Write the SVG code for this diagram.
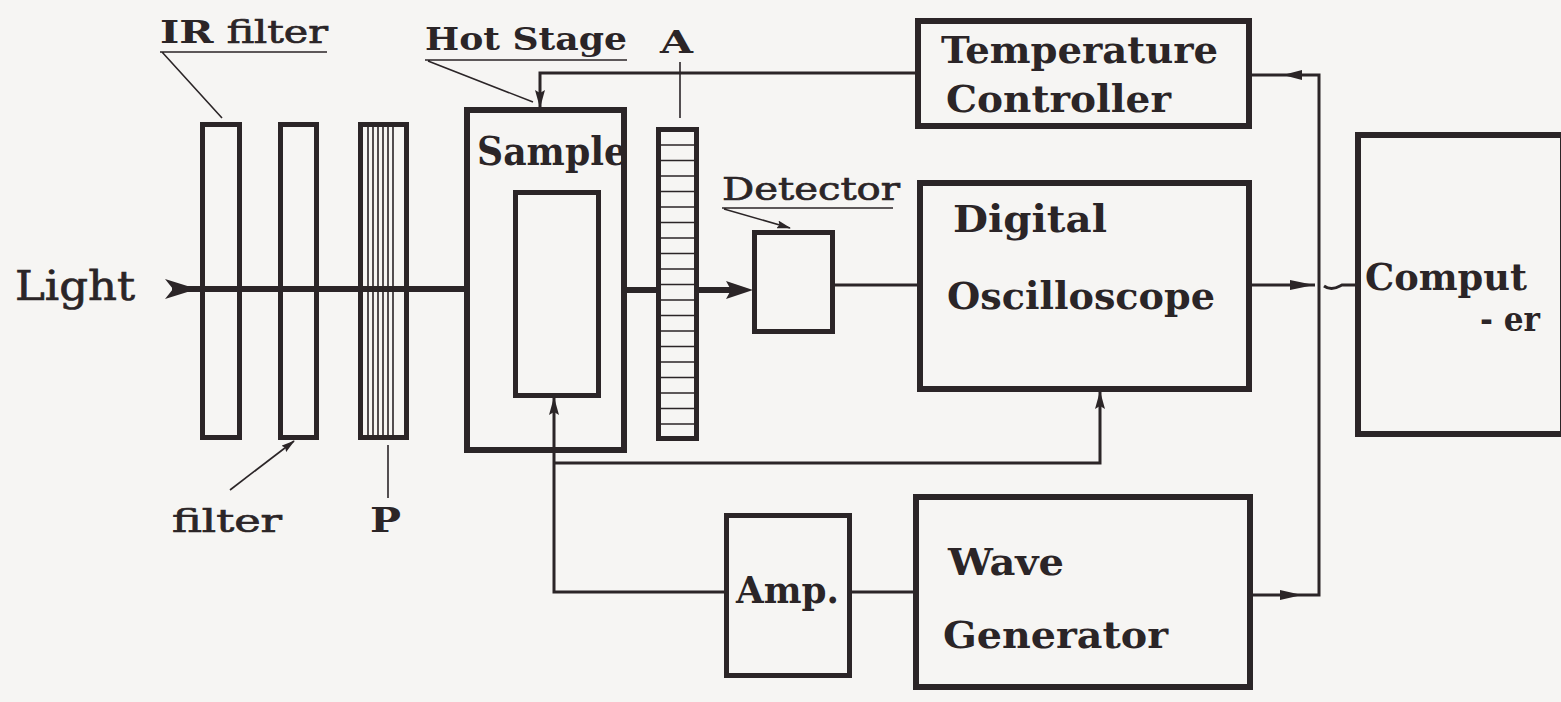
<svg xmlns="http://www.w3.org/2000/svg" width="1561" height="702" viewBox="0 0 1561 702">
<style>
.bg{fill:#f6f5f3}
.box{fill:none;stroke:#2b2527;stroke-width:6}
.mid{fill:none;stroke:#2b2527;stroke-width:5}
.ln{fill:none;stroke:#2b2527;stroke-width:3}
.thin{fill:none;stroke:#2b2527;stroke-width:1.6}
.beam{fill:none;stroke:#2b2527;stroke-width:6}
.ah{fill:#2b2527;stroke:none}
text{font-family:"DejaVu Serif","Liberation Serif",serif;fill:#2b2527}
.b{font-weight:bold}
.r{stroke:#2b2527;stroke-width:0.7}
</style>
<defs>
<marker id="arr" markerUnits="userSpaceOnUse" markerWidth="18" markerHeight="10" refX="17" refY="5" orient="auto">
<path d="M0,0 L18,5 L0,10 L3,5 z" fill="#2b2527"/>
</marker>
<marker id="arrs" markerUnits="userSpaceOnUse" markerWidth="14" markerHeight="8" refX="13" refY="4" orient="auto">
<path d="M0,0 L14,4 L0,8 L2,4 z" fill="#2b2527"/>
</marker>
</defs>
<rect class="bg" x="0" y="0" width="1561" height="702"/>

<g id="connectors">
<path class="beam" d="M172,289 H465"/>
<path class="ah" d="M165,279 L197,289 L165,299 L173,289 z"/>
<path class="beam" d="M626,290 H656 M698,290 H735"/>
<path class="ah" d="M726,281 L753,290 L726,299 L731,290 z"/>
<path class="ln" d="M834,285 H917"/>
<path class="ln" d="M915,73 H540 V107" marker-end="url(#arr)"/>
<path class="ln" d="M1250,75 H1319 V595 H1253"/>
<path class="ah" d="M1283,75 L1302,70 L1302,80 z"/>
<path class="ah" d="M1302,595 L1280,590 L1280,600 z"/>
<path class="ln" d="M1252,285 H1315"/>
<path class="ah" d="M1314,285 L1290,280 L1290,290 z"/>
<path class="ln" d="M1324,286 Q1331,291 1340,286 L1342,285 H1355"/>
<path class="ln" d="M724,592 H554 V398" marker-end="url(#arr)"/>
<path class="ln" d="M554,463 H1100 V392" marker-end="url(#arr)"/>
<path class="ln" d="M852,592 H913"/>
</g>

<g id="ir-filter">
<rect class="mid" x="202.5" y="124.5" width="37" height="313"/>
<text x="160" y="43" font-size="31" textLength="168" lengthAdjust="spacingAndGlyphs"><tspan class="b">IR</tspan><tspan class="r"> filter</tspan></text>
<path class="thin" d="M160,52 H327 M162,52 L222,118"/>
</g>

<g id="filter">
<rect class="mid" x="280.5" y="124.5" width="36" height="313"/>
<text x="172" y="532" font-size="32" class="r" textLength="110" lengthAdjust="spacingAndGlyphs">filter</text>
<path class="thin" d="M230,490 L294,441" marker-end="url(#arrs)"/>
</g>

<g id="polarizer">
<rect class="mid" x="360.5" y="124.5" width="46" height="313"/>
<path class="thin" d="M368,127 V437 M373,127 V437 M378,127 V437 M383,127 V437 M388,127 V437 M393,127 V437" stroke-width="1.2"/>
<path class="thin" d="M388,445 V498"/>
<text x="370" y="532" font-size="33" class="b" textLength="31" lengthAdjust="spacingAndGlyphs">P</text>
</g>

<g id="hot-stage">
<rect class="box" x="467" y="110" width="157" height="340"/>
<rect class="mid" x="515.5" y="192.5" width="83" height="203"/>
<text x="477" y="165" font-size="39" class="b" textLength="150" lengthAdjust="spacingAndGlyphs">Sample</text>
<text x="425" y="50" font-size="31" class="b" textLength="202" lengthAdjust="spacingAndGlyphs">Hot Stage</text>
<path class="thin" d="M425,60 H627 M428,61 L533,102"/>
</g>

<g id="analyzer">
<rect class="mid" x="658.5" y="129.5" width="38" height="309" fill="#f6f5f3"/>
<path class="thin" stroke-width="2" d="M659,145 H696 M659,160.5 H696 M659,176 H696 M659,191.5 H696 M659,207 H696 M659,222.5 H696 M659,238 H696 M659,253.5 H696 M659,269 H696 M659,284.5 H696 M659,300 H696 M659,315.5 H696 M659,331 H696 M659,346.5 H696 M659,362 H696 M659,377.5 H696 M659,393 H696 M659,408.5 H696 M659,424 H696"/>
<path class="thin" d="M680,62 V118"/>
<text x="660" y="53" font-size="31" class="b" textLength="33" lengthAdjust="spacingAndGlyphs">A</text>
</g>

<g id="detector">
<rect class="mid" x="754.5" y="232.5" width="78" height="99"/>
<text x="722" y="200" font-size="32" class="r" textLength="178" lengthAdjust="spacingAndGlyphs">Detector</text>
<path class="thin" d="M722,208 H893 M724,209 L790,228" marker-end="url(#arrs)"/>
</g>

<g id="temperature-controller">
<rect class="box" x="918" y="21" width="331" height="105"/>
<text x="941" y="63" font-size="38" class="b" textLength="277" lengthAdjust="spacingAndGlyphs">Temperature</text>
<text x="946" y="112" font-size="38" class="b" textLength="225" lengthAdjust="spacingAndGlyphs">Controller</text>
</g>

<g id="oscilloscope">
<rect class="box" x="920" y="183" width="329" height="206"/>
<text x="953" y="232" font-size="38" class="b" textLength="154" lengthAdjust="spacingAndGlyphs">Digital</text>
<text x="947" y="309" font-size="38" class="b" textLength="268" lengthAdjust="spacingAndGlyphs">Oscilloscope</text>
</g>

<g id="amp">
<rect class="mid" x="726.5" y="515.5" width="123" height="160"/>
<text x="736" y="603" font-size="38" class="b" textLength="103" lengthAdjust="spacingAndGlyphs">Amp.</text>
</g>

<g id="wave-generator">
<rect class="box" x="916" y="497" width="334" height="190"/>
<text x="948" y="575" font-size="38" class="b" textLength="116" lengthAdjust="spacingAndGlyphs">Wave</text>
<text x="943" y="648" font-size="38" class="b" textLength="225" lengthAdjust="spacingAndGlyphs">Generator</text>
</g>

<g id="computer">
<rect class="box" x="1358" y="135" width="205" height="299"/>
<text x="1365" y="290" font-size="37" class="b" textLength="162" lengthAdjust="spacingAndGlyphs">Comput</text>
<text x="1480" y="331" font-size="34" class="b" textLength="60" lengthAdjust="spacingAndGlyphs">- er</text>
</g>

<g id="light">
<text x="15" y="300" font-size="41" class="r" textLength="120" lengthAdjust="spacingAndGlyphs">Light</text>
</g>
</svg>
